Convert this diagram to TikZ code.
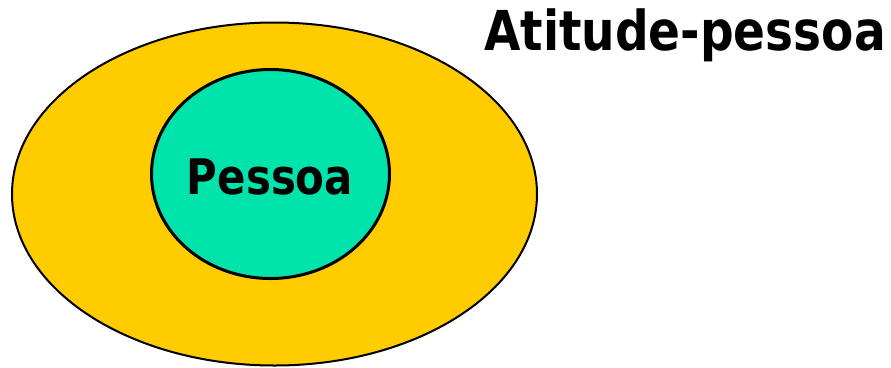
\documentclass[tikz,border=0pt]{standalone}
\usepackage{fontspec}
\setmainfont{DejaVu Sans}
\definecolor{cgold}{HTML}{FFCC00}
\definecolor{cmint}{HTML}{00E3AA}
\tikzset{
  every picture/.style={x=1pt, y=-1pt},
  ring/.style={draw=black, fill=#1},
  label/.style={font=\bfseries\fontsize{#1}{#1}\selectfont, inner sep=0pt, xscale=0.855},
}
\begin{document}
\begin{tikzpicture}
  \useasboundingbox (0,0) rectangle (891,367);
  % outer and inner regions
  \draw[ring=cgold, line width=2pt] (274.5,194) ellipse [x radius=262.5, y radius=171.5];
  \draw[ring=cmint, line width=3pt] (270.5,174) ellipse [x radius=119, y radius=104.5];
  \node[label=49, anchor=base] (pessoa) at (270,194) {Pessoa};
  \node[label=55, anchor=base] (titulo) at (685,50) {Atitude-pessoa};
\end{tikzpicture}
\end{document}
